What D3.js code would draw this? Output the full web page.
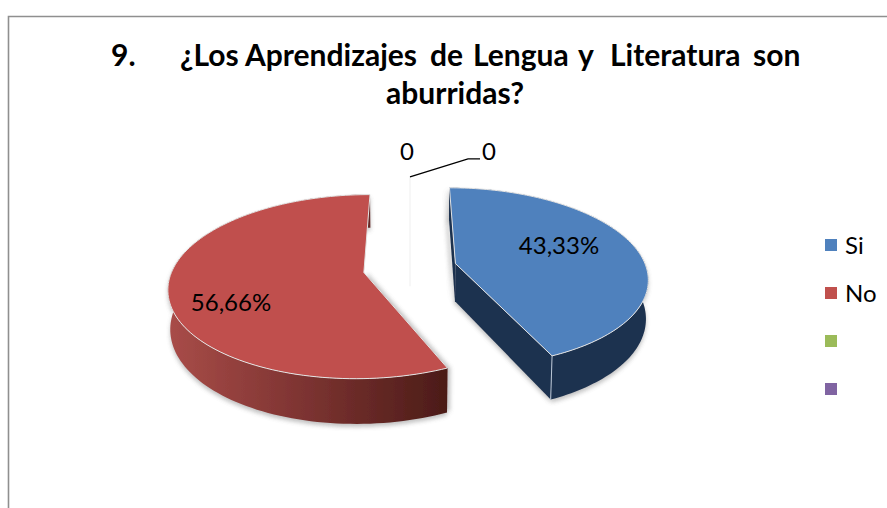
<!DOCTYPE html>
<html>
<head>
<meta charset="utf-8">
<script src="https://cdn.jsdelivr.net/npm/d3@7/dist/d3.min.js"></script>
<style>
html,body{margin:0;padding:0;background:#fff;overflow:hidden}
svg{display:block;font-family:Lato,Carlito,sans-serif}
</style>
</head>
<body>
<svg id="chart" width="887" height="508"></svg>
<script>
const categories = ["Si", "No", "", ""];
const seriesValues = [43.33, 56.66, 0, 0];
const valueLabels = ["43,33%", "56,66%", "0", "0"];
const topColors = ["#4f81bd", "#c0504d", "#9bbb59", "#8064a2"];
const titleLine1 = ["9.", "¿Los", "Aprendizajes", "de", "Lengua", "y", "Literatura", "son"];
const titleLine2 = "aburridas?";

const svg = d3.select("#chart");
const defs = svg.append("defs");
defs.append("filter").attr("id", "soft").attr("x", "-10%").attr("y", "-10%").attr("width", "120%").attr("height", "120%")
  .append("feGaussianBlur").attr("stdDeviation", 2.2);
defs.append("filter").attr("id", "aa").append("feGaussianBlur").attr("stdDeviation", 0.35);
const grad = defs.append("linearGradient").attr("id", "redSide")
  .attr("gradientUnits", "userSpaceOnUse").attr("x1", 170).attr("x2", 446).attr("y1", 0).attr("y2", 0);
grad.append("stop").attr("offset", 0).attr("stop-color", "#a84c48");
grad.append("stop").attr("offset", 0.45).attr("stop-color", "#803533");
grad.append("stop").attr("offset", 1).attr("stop-color", "#4c1c18");

// frame
svg.append("path").attr("d", "M8.5,508V16.5H887").attr("fill", "none").attr("stroke", "#8f8f8f").attr("stroke-width", 1.6);

// perspective projection of the exploded 3D pie
const cx = 410, cy = 268, rx = 191, ry = 88.5, persp = 0.152, depth = 38, explode = 0.245;
const project = (X, Y, z = 0) => {
  const w = 1 + persp * Y;
  const shrink = z ? 0.99 : 1;
  return [cx + rx * X / w * shrink, cy - ry * Y / w + z * depth / w];
};
const pie = d3.pie().sort(null).value(d => d).startAngle(0).endAngle(2 * Math.PI);
const arcs = pie(seriesValues);
const line = d3.line().curve(d3.curveLinear);

const chart = svg.append("g").attr("filter", "url(#aa)");
const shadowG = chart.append("g").attr("filter", "url(#soft)").attr("opacity", 0.45);
const sidesG = chart.append("g");
const topsG = chart.append("g");

const sideFill = ["#1f3350", "url(#redSide)"];
const wallFill = ["#1f3350", "#7a3330"];

arcs.forEach((a, i) => {
  if (a.endAngle - a.startAngle <= 0) return;
  const mid = (a.startAngle + a.endAngle) / 2;
  const ox = explode * Math.sin(mid), oy = explode * Math.cos(mid);
  const angles = d3.range(0, 121).map(t => a.startAngle + (a.endAngle - a.startAngle) * t / 120);
  const rim = z => angles.map(t => project(ox + Math.sin(t), oy + Math.cos(t), z));
  const apex = z => project(ox, oy, z);
  const top = rim(0), bot = rim(1);
  const rimFace = top.concat(bot.slice().reverse());
  const startWall = [apex(0), top[0], bot[0], apex(1)];
  const endWall = [apex(0), top[top.length - 1], bot[bot.length - 1], apex(1)];

  shadowG.append("path").attr("d", line(rimFace) + "Z").attr("fill", "#777").attr("transform", "translate(0,3)");
  shadowG.append("path").attr("d", line(startWall) + "Z").attr("fill", "#777").attr("transform", i === 0 ? "translate(-3,0)" : "translate(3,0)");
  if (i === 0) shadowG.append("path").attr("d", line(endWall) + "Z").attr("fill", "#777").attr("transform", "translate(-1,2)");

  sidesG.append("path").attr("d", line(startWall) + "Z").attr("fill", wallFill[i]);
  if (i === 0) {
    sidesG.append("path").attr("d", line(endWall) + "Z").attr("fill", wallFill[i]);
  }
  sidesG.append("path").attr("d", line(rimFace) + "Z").attr("fill", sideFill[i]);
  if (i === 0) {
    sidesG.append("path").attr("d", line([top[top.length - 1], bot[bot.length - 1]]))
      .attr("stroke", "#b9c6d6").attr("stroke-width", 1).attr("fill", "none");
  }
  topsG.append("path").attr("d", line([apex(0)].concat(top)) + "Z")
    .attr("fill", topColors[i]).attr("stroke", "#e4e4e4").attr("stroke-width", 1).attr("stroke-linejoin", "round");
});

// zero-value slices: faint spoke and leader line
const zero = arcs[2];
const zeroTip = project(Math.sin(zero.startAngle), 1.22 * Math.cos(zero.startAngle));
const zeroFoot = project(Math.sin(zero.startAngle), -0.2 * Math.cos(zero.startAngle));
svg.append("line").attr("x1", zeroTip[0]).attr("y1", zeroTip[1]).attr("x2", zeroFoot[0]).attr("y2", zeroFoot[1])
  .attr("stroke", "#efefef").attr("stroke-width", 1);
svg.append("path")
  .attr("d", line([zeroTip, [zeroTip[0] + 58, zeroTip[1] - 18], [zeroTip[0] + 70, zeroTip[1] - 18]]))
  .attr("fill", "none").attr("stroke", "#000").attr("stroke-width", 1.4);

// data labels
const labelPos = [[559, 244], [231, 301], [407, 150], [489, 150]];
svg.append("g").selectAll("text").data(valueLabels).join("text")
  .attr("x", (d, i) => labelPos[i][0]).attr("y", (d, i) => labelPos[i][1])
  .attr("text-anchor", "middle").attr("dominant-baseline", "central")
  .attr("font-size", 24).attr("fill", "#000").text(d => d);

// title
const titleX = [111, 180, 245, 430, 473, 578, 610, 753];
const title = svg.append("g").attr("font-weight", 700).attr("font-size", 30).attr("fill", "#000");
title.selectAll("text").data(titleLine1).join("text")
  .attr("x", (d, i) => titleX[i]).attr("y", 66).text(d => d);
title.append("text").attr("x", 455).attr("y", 104).attr("text-anchor", "middle").text(titleLine2);

// legend
const legendY = d3.scalePoint().domain(d3.range(categories.length)).range([245, 389]);
const legend = svg.append("g").selectAll("g").data(categories).join("g")
  .attr("transform", (d, i) => `translate(825,${legendY(i)})`);
legend.append("rect").attr("x", 0).attr("y", -6).attr("width", 12).attr("height", 12)
  .attr("fill", (d, i) => topColors[i]);
legend.append("text").attr("x", 20).attr("y", -1).attr("dominant-baseline", "central")
  .attr("font-size", 24).attr("fill", "#000").text(d => d);
</script>
</body>
</html>
